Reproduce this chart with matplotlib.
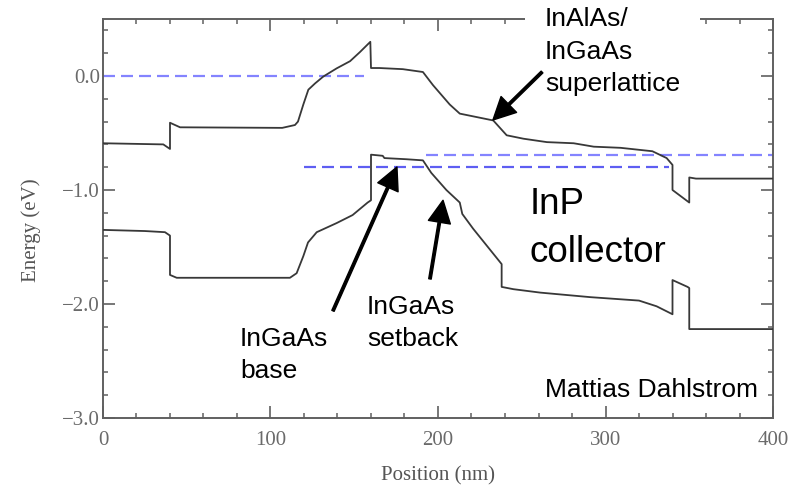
import numpy as np
import matplotlib
matplotlib.use("Agg")
import matplotlib.pyplot as plt
from matplotlib.ticker import MultipleLocator, FixedLocator

# --- band edges (position nm, energy eV) ---
cb_pos = [0, 36, 40, 40, 43, 46, 107, 114.6, 116.4, 119.6, 122.6, 126.6, 131.5, 139.5,
          147.5, 153.4, 159.6, 160, 165, 179, 191, 197, 207, 213, 233, 241, 251, 265,
          281, 293, 309, 328, 336.5, 340, 340, 350, 350, 354, 400]
cb_energy = [-0.59, -0.60, -0.64, -0.41, -0.43, -0.45, -0.455, -0.43, -0.40, -0.25, -0.12,
             -0.065, -0.005, 0.067, 0.13, 0.21, 0.30, 0.07, 0.07, 0.06, 0.035, -0.08,
             -0.25, -0.33, -0.39, -0.52, -0.55, -0.58, -0.59, -0.62, -0.63, -0.66,
             -0.72, -0.78, -1.0, -1.11, -0.89, -0.90, -0.90]

vb_pos = [0, 25, 37, 40, 40, 44, 111.6, 115.6, 119.6, 122.4, 127.6, 139.5, 149, 158,
          160, 160, 167, 168, 181, 191, 196, 205, 213, 214.5, 221, 238, 238, 245, 261,
          291, 320, 330.5, 340, 340, 349, 350, 350, 353, 400]
vb_energy = [-1.35, -1.36, -1.37, -1.40, -1.745, -1.77, -1.77, -1.73, -1.58, -1.46, -1.37,
             -1.29, -1.22, -1.11, -1.09, -0.69, -0.70, -0.72, -0.73, -0.74, -0.85, -1.0,
             -1.11, -1.21, -1.34, -1.65, -1.85, -1.87, -1.90, -1.94, -1.97, -2.02,
             -2.09, -1.79, -1.85, -1.86, -2.22, -2.22, -2.22]

# --- quasi Fermi levels (dashed) ---
fermi_start = [0, 120, 193]
fermi_end = [156, 338, 400]
fermi_level = [0.0, -0.80, -0.69]

xticks = [0, 100, 200, 300, 400]
yticks = [0.0, -1.0, -2.0, -3.0]

serif = "Liberation Serif"
sans = "Liberation Sans"
gray = "#606060"

fig = plt.figure(figsize=(7.97, 4.92), dpi=100)
ax = fig.add_axes([0.12923, 0.15041, 0.84066, 0.81097])

fermi_colors = ["#8484ff", "#5e5ef2", "#8484ff"]
for x0, x1, e, c in zip(fermi_start, fermi_end, fermi_level, fermi_colors):
    ax.plot([x0, x1], [e, e], color=c, lw=1.6, dashes=(5.4, 2.7), zorder=2)

ax.plot(cb_pos, cb_energy, color="#383838", lw=1.3, zorder=3)
ax.plot(vb_pos, vb_energy, color="#383838", lw=1.3, zorder=3)

ax.set_xlim(0, 400)
ax.set_ylim(-3.0, 0.5)
ax.xaxis.set_major_locator(FixedLocator(xticks))
ax.xaxis.set_minor_locator(MultipleLocator(20))
ax.yaxis.set_major_locator(FixedLocator(yticks))
ax.yaxis.set_minor_locator(MultipleLocator(0.2))
ax.set_xticklabels([str(v) for v in xticks])
ax.set_yticklabels(["%.1f" % v if v == 0 else "\u2212%.1f" % abs(v) for v in yticks])

ax.tick_params(which="both", direction="in", top=True, right=True, color=gray,
               labelcolor="#6a6a6a", labelsize=15)
ax.tick_params(which="major", length=8.6, width=1.2)
ax.tick_params(which="minor", length=3.6, width=1.1)
ax.tick_params(axis="x", pad=9.5)
ax.tick_params(axis="y", pad=2)
for lbl in ax.get_xticklabels() + ax.get_yticklabels():
    lbl.set_fontfamily(serif)
for sp in ax.spines.values():
    sp.set_color(gray)
    sp.set_linewidth(1.4)

ax.set_xlabel("Position (nm)", fontsize=15, family=serif, color="#555555")
ax.set_ylabel("Energy (eV)", fontsize=15, family=serif, color="#555555")
ax.xaxis.set_label_coords(0.5, -0.12)
ax.yaxis.set_label_coords(-0.092, 0.47)

# --- region labels ---
ax.text(263.9, 0.605, "InAlAs/\nInGaAs\nsuperlattice", family=sans, fontsize=19,
        va="top", ha="left", linespacing=1.45, clip_on=False, zorder=5,
        bbox=dict(boxstyle="square,pad=0.75", fc="white", ec="none"))
ax.text(254.9, -0.975, "InP\ncollector", family=sans, fontsize=26.5,
        va="top", ha="left", linespacing=1.47, zorder=5)
ax.text(81.8, -2.20, "InGaAs\nbase", family=sans, fontsize=19,
        va="top", ha="left", linespacing=1.45, zorder=5)
ax.text(157.6, -1.92, "InGaAs\nsetback", family=sans, fontsize=19,
        va="top", ha="left", linespacing=1.45, zorder=5)
ax.text(263.9, -2.65, "Mattias Dahlstrom", family=sans, fontsize=19,
        va="top", ha="left", zorder=5)

arrow = dict(facecolor="black", edgecolor="black", width=1.8, headwidth=16,
             headlength=16, shrink=0)
ax.annotate("", xy=(232.8, -0.386), xytext=(262.1, 0.035), arrowprops=arrow,
            annotation_clip=False, zorder=6)
ax.annotate("", xy=(175.5, -0.798), xytext=(137.3, -2.06), arrowprops=arrow, zorder=6)
ax.annotate("", xy=(203.0, -1.09), xytext=(195.2, -1.78), arrowprops=arrow, zorder=6)

fig.savefig("out.png", dpi=100)
